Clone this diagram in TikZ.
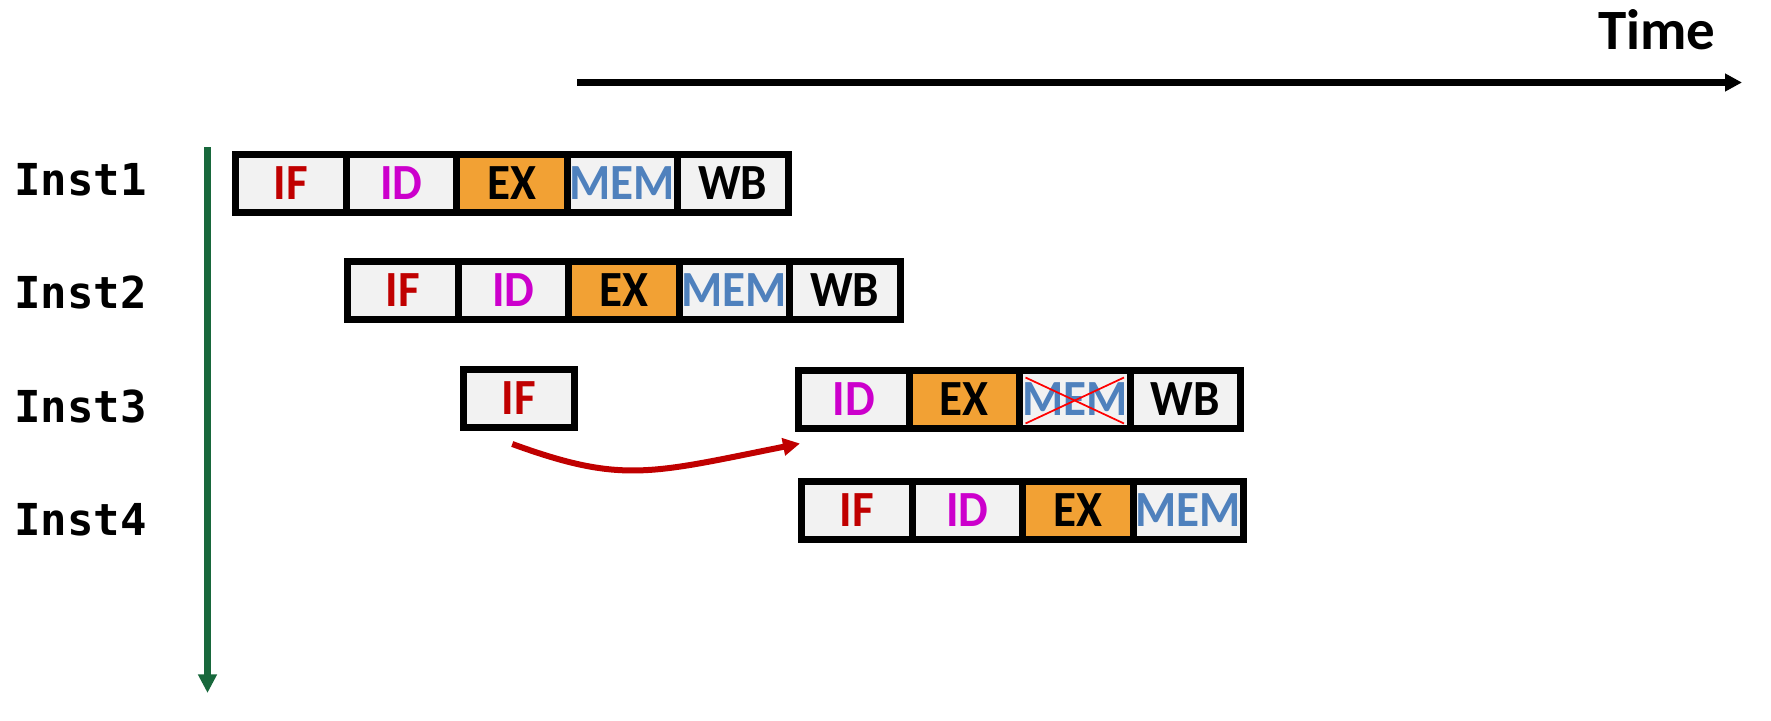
\documentclass[tikz,border=0pt]{standalone}
\usepackage{fontspec}
\setmainfont{Carlito}
\newfontfamily\monof{DejaVu Sans Mono}
\newfontfamily\cellf[FakeStretch=0.93]{Carlito}
\usetikzlibrary{arrows.meta,calc}
\definecolor{cellgray}{HTML}{F2F2F2}
\definecolor{exorange}{HTML}{F2A134}
\definecolor{ifred}{HTML}{C00000}
\definecolor{idmag}{HTML}{CC00CC}
\definecolor{memblue}{HTML}{4F81BD}
\definecolor{axisgreen}{HTML}{18683C}
\definecolor{arrred}{HTML}{C00000}
\begin{document}
\begin{tikzpicture}[x=0.75pt,y=-0.75pt,
  cell/.style={draw=black,line width=5.25pt,fill=cellgray,minimum width=82.875pt,
    minimum height=43.5pt,inner sep=0pt,outer sep=0pt,anchor=west,
    text height=24pt,text depth=0pt,font=\cellf\bfseries\fontsize{38}{38}\selectfont},
  ifc/.style={cell,text=ifred},
  idc/.style={cell,text=idmag},
  exc/.style={cell,fill=exorange,text=black},
  memc/.style={cell,text=memblue},
  wbc/.style={cell,text=black},
  inst/.style={anchor=base west,inner sep=0pt,font=\monof\bfseries\fontsize{33}{33}\selectfont},
  timelbl/.style={anchor=base west,inner sep=0pt,font=\bfseries\fontsize{42.75}{43}\selectfont},
  timearrow/.style={line width=5.25pt,-{Triangle[length=12.75pt,width=12.75pt]}},
  instarrow/.style={draw=axisgreen,line width=4.8pt,-{Triangle[length=14pt,width=13.5pt]}},
  redarrow/.style={draw=arrred,line width=4.5pt,-{Triangle[length=12.75pt,width=12.75pt]}},
  crossline/.style={draw=red,line width=1.3pt}
]
\useasboundingbox (0,0) rectangle (1771,721);

% Time axis
\coordinate (t0) at (577,82.5);
\coordinate (t1) at (1742,82.5);
\draw[timearrow] (t0) -- (t1);
\node[timelbl] (time) at (1598,49) {Time};

% instruction axis
\coordinate (g0) at (207.5,147);
\coordinate (g1) at (207.5,693);
\draw[instarrow] (g0) -- (g1);

% labels
\node[inst] (l1) at (14,195) {Inst1};
\node[inst] (l2) at (14,308) {Inst2};
\node[inst] (l3) at (14,422) {Inst3};
\node[inst] (l4) at (14,535) {Inst4};

% Row 1
\node[ifc]  (a1) at (235.5,183.5) {IF};
\node[idc]  (a2) at (a1.east) {ID};
\node[exc]  (a3) at (a2.east) {EX};
\node[memc] (a4) at (a3.east) {MEM};
\node[wbc]  (a5) at (a4.east) {WB};

% Row 2
\node[ifc]  (b1) at (347.5,290.5) {IF};
\node[idc]  (b2) at (b1.east) {ID};
\node[exc]  (b3) at (b2.east) {EX};
\node[memc] (b4) at (b3.east) {MEM};
\node[wbc]  (b5) at (b4.east) {WB};

% Row 3
\node[ifc]  (c1) at (463.5,398.5) {IF};
\node[idc]  (c2) at (798.5,399) {ID};
\node[exc]  (c3) at (c2.east) {EX};
\node[memc] (c4) at (c3.east) {MEM};
\node[wbc]  (c5) at (c4.east) {WB};

% Row 4
\node[ifc]  (d1) at (801.5,510.5) {IF};
\node[idc]  (d2) at (d1.east) {ID};
\node[exc]  (d3) at (d2.east) {EX};
\node[memc] (d4) at (d3.east) {MEM};

% cross on MEM
\draw[crossline] ($(c4.north west)+(6,7.5)$) -- ($(c4.south east)+(-6,-4.5)$);
\draw[crossline] ($(c4.south west)+(6,-4.5)$) -- ($(c4.north east)+(-6,7.5)$);

% red curved arrow
\draw[redarrow] ($(c1.south)+(-6.5,16.5)$) .. controls +(110,40) and +(-150,30) .. ($(c2.south west)+(1.5,15.5)$);
\end{tikzpicture}
\end{document}
